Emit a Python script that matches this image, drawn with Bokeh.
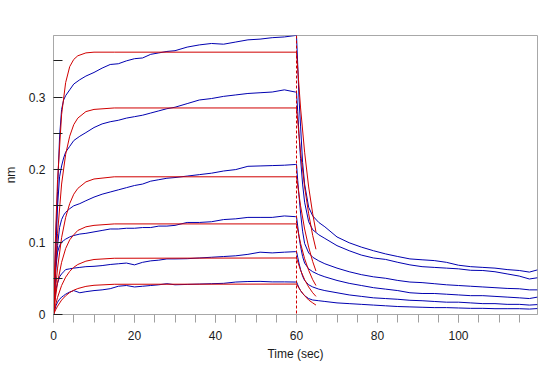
from bokeh.plotting import figure
from bokeh.models import Range1d, FixedTicker, Span
from bokeh.embed import file_html
from bokeh.resources import INLINE

# ---- data ----
assoc_t = [0, 0.3, 0.6, 1, 1.5, 2, 2.5, 3, 4, 5, 6.5, 8, 10, 12, 14, 16, 18, 20, 22, 24, 26, 28,
           30, 33, 36, 39, 42, 45, 48, 51, 54, 57, 59.7]
diss_t = [60, 60.3, 60.6, 61, 61.5, 62, 63, 64, 65.5, 67, 70, 73, 76, 79, 82, 85, 88, 91, 94, 97,
          100, 103, 106, 109, 112, 115, 117.5, 119.5]

blue1_assoc = [0, 0.05, 0.11, 0.17, 0.245, 0.283, 0.296, 0.302, 0.310, 0.318, 0.324, 0.329, 0.334, 0.340,
               0.345, 0.346, 0.350, 0.353, 0.354, 0.359, 0.361, 0.363, 0.364, 0.369, 0.372, 0.374, 0.373,
               0.376, 0.379, 0.380, 0.382, 0.383, 0.385]
blue2_assoc = [0, 0.04, 0.09, 0.15, 0.19, 0.205, 0.216, 0.224, 0.232, 0.240, 0.246, 0.251, 0.258, 0.263,
               0.266, 0.268, 0.271, 0.273, 0.275, 0.278, 0.281, 0.284, 0.286, 0.291, 0.296, 0.298, 0.301,
               0.303, 0.305, 0.306, 0.307, 0.310, 0.307]
blue3_assoc = [0, 0.03, 0.07, 0.095, 0.12, 0.131, 0.137, 0.141, 0.146, 0.150, 0.153, 0.157, 0.162, 0.166,
               0.169, 0.172, 0.175, 0.178, 0.180, 0.184, 0.186, 0.188, 0.189, 0.191, 0.193, 0.195, 0.198,
               0.200, 0.2045, 0.205, 0.2055, 0.206, 0.207]
blue4_assoc = [0, 0.035, 0.065, 0.086, 0.095, 0.100, 0.102, 0.104, 0.107, 0.109, 0.111, 0.112, 0.114, 0.116,
               0.118, 0.118, 0.119, 0.119, 0.120, 0.120, 0.122, 0.122, 0.123, 0.127, 0.127, 0.128, 0.131,
               0.132, 0.134, 0.134, 0.134, 0.136, 0.135]
blue5_assoc = [0, 0.02, 0.035, 0.043, 0.052, 0.056, 0.059, 0.062, 0.063, 0.064, 0.065, 0.066, 0.0665, 0.0675,
               0.069, 0.070, 0.071, 0.0685, 0.072, 0.074, 0.075, 0.0767, 0.0767, 0.077, 0.078, 0.079, 0.080,
               0.081, 0.083, 0.086, 0.085, 0.086, 0.0867]
blue6_assoc = [0, 0.006, 0.012, 0.017, 0.021, 0.024, 0.026, 0.028, 0.031, 0.033, 0.030, 0.0315, 0.033, 0.034,
               0.0356, 0.039, 0.040, 0.038, 0.039, 0.040, 0.041, 0.0425, 0.041, 0.0415, 0.042, 0.0425, 0.043,
               0.0448, 0.0455, 0.0457, 0.045, 0.045, 0.0448]

blue1_diss = [0.385, 0.345, 0.30, 0.26, 0.21, 0.18, 0.148, 0.136, 0.127, 0.121, 0.107, 0.099, 0.093, 0.088,
              0.0836, 0.080, 0.0767, 0.0755, 0.0744, 0.072, 0.068, 0.066, 0.065, 0.064, 0.062, 0.0607, 0.0585, 0.0616]
blue2_diss = [0.307, 0.28, 0.25, 0.215, 0.18, 0.155, 0.128, 0.117, 0.110, 0.105, 0.095, 0.088, 0.082, 0.078,
              0.076, 0.072, 0.0685, 0.066, 0.065, 0.064, 0.063, 0.061, 0.0607, 0.059, 0.056, 0.053, 0.049, 0.0507]
blue3_diss = [0.207, 0.185, 0.165, 0.14, 0.115, 0.098, 0.085, 0.079, 0.074, 0.070, 0.064, 0.059, 0.055, 0.052,
              0.050, 0.047, 0.0448, 0.044, 0.0425, 0.041, 0.040, 0.039, 0.038, 0.037, 0.036, 0.0355, 0.034, 0.034]
blue4_diss = [0.135, 0.122, 0.108, 0.094, 0.080, 0.071, 0.063, 0.059, 0.055, 0.052, 0.047, 0.043, 0.040, 0.037,
              0.035, 0.033, 0.030, 0.029, 0.029, 0.028, 0.027, 0.026, 0.026, 0.025, 0.024, 0.023, 0.022, 0.024]
blue5_diss = [0.087, 0.079, 0.071, 0.062, 0.053, 0.047, 0.041, 0.038, 0.035, 0.033, 0.030, 0.027, 0.025, 0.023,
              0.022, 0.021, 0.0196, 0.019, 0.018, 0.017, 0.017, 0.016, 0.015, 0.015, 0.014, 0.014, 0.013, 0.0137]
blue6_diss = [0.045, 0.041, 0.037, 0.033, 0.029, 0.026, 0.022, 0.020, 0.019, 0.018, 0.016, 0.015, 0.014, 0.013,
              0.012, 0.011, 0.0105, 0.010, 0.0095, 0.0095, 0.009, 0.0085, 0.0085, 0.008, 0.008, 0.008, 0.0075, 0.0082]

fit_assoc_t = [0, 0.5, 1, 2, 3, 4, 5, 6, 8, 10, 15, 60]
fit_diss_t = [60, 61, 62, 63, 64, 64.8]

red1_assoc = [0, 0.109, 0.186, 0.276, 0.320, 0.342, 0.352, 0.357, 0.361, 0.362, 0.362, 0.362]
red2_assoc = [0, 0.063, 0.112, 0.180, 0.221, 0.246, 0.262, 0.271, 0.280, 0.283, 0.285, 0.285]
red3_assoc = [0, 0.035, 0.064, 0.106, 0.134, 0.153, 0.166, 0.174, 0.183, 0.187, 0.190, 0.190]
red4_assoc = [0, 0.024, 0.044, 0.072, 0.091, 0.103, 0.110, 0.116, 0.121, 0.123, 0.125, 0.125]
red5_assoc = [0, 0.0129, 0.0236, 0.040, 0.0515, 0.0595, 0.0651, 0.069, 0.0736, 0.0759, 0.0776, 0.078]
red6_assoc = [0, 0.0062, 0.0115, 0.0199, 0.0259, 0.0303, 0.0335, 0.0358, 0.0388, 0.0403, 0.0417, 0.042]

red1_diss = [0.362, 0.285, 0.224, 0.176, 0.139, 0.114]
red2_diss = [0.285, 0.224, 0.176, 0.139, 0.109, 0.090]
red3_diss = [0.190, 0.150, 0.118, 0.093, 0.073, 0.060]
red4_diss = [0.125, 0.098, 0.077, 0.061, 0.048, 0.040]
red5_diss = [0.078, 0.061, 0.048, 0.038, 0.030, 0.025]
red6_diss = [0.042, 0.033, 0.026, 0.020, 0.016, 0.013]

x_ticks = [0, 20, 40, 60, 80, 100]
y_ticks = [0, 0.1, 0.2, 0.3]
y_labels = ["0", "0.1", "0.2", "0.3"]

blue_assoc = [blue1_assoc, blue2_assoc, blue3_assoc, blue4_assoc, blue5_assoc, blue6_assoc]
blue_diss = [blue1_diss, blue2_diss, blue3_diss, blue4_diss, blue5_diss, blue6_diss]
red_assoc = [red1_assoc, red2_assoc, red3_assoc, red4_assoc, red5_assoc, red6_assoc]
red_diss = [red1_diss, red2_diss, red3_diss, red4_diss, red5_diss, red6_diss]

BLUE = "#0000B0"
RED = "#D00000"
FONT = "Liberation Sans"

p = figure(width=539, height=363, output_backend="svg", toolbar_location=None,
           x_range=Range1d(0, 119.5), y_range=Range1d(0, 0.385),
           min_border_left=53, min_border_right=2, min_border_top=35, min_border_bottom=42)
p.outline_line_color = "#A8A8A8"
p.xgrid.visible = False
p.ygrid.visible = False
p.background_fill_color = "white"

for ba, bd in zip(blue_assoc, blue_diss):
    p.line(assoc_t + diss_t, ba + bd, line_color=BLUE, line_width=1)
for ra, rd in zip(red_assoc, red_diss):
    p.line(fit_assoc_t, ra, line_color=RED, line_width=1)
    p.line(fit_diss_t, rd, line_color=RED, line_width=1)

p.add_layout(Span(location=60, dimension="height", line_color=RED, line_dash="3 2", line_width=1))

xa = p.xaxis[0]
xa.ticker = FixedTicker(ticks=x_ticks, minor_ticks=[v * 5 for v in range(0, 24)])
xa.axis_label = "Time (sec)"
xa.major_tick_in = 0
xa.major_tick_out = 8
xa.minor_tick_in = 0
xa.minor_tick_out = 8
xa.axis_line_color = "#A8A8A8"
xa.major_tick_line_color = "#A0A0A0"
xa.minor_tick_line_color = "#A0A0A0"

ya = p.yaxis[0]
ya.ticker = FixedTicker(ticks=y_ticks, minor_ticks=[0.05, 0.15, 0.25, 0.35])
ya.major_label_overrides = {t: l for t, l in zip(y_ticks, y_labels)}
ya.axis_label = "nm"
ya.major_tick_in = 9
ya.major_tick_out = 0
ya.minor_tick_in = 9
ya.minor_tick_out = 0
ya.axis_line_color = "#A8A8A8"
ya.major_tick_line_color = "#202020"
ya.minor_tick_line_color = "#202020"

for ax in (xa, ya):
    ax.major_label_text_font = FONT
    ax.major_label_text_font_size = "12px"
    ax.major_label_text_color = "#1a1a1a"
    ax.axis_label_text_font = FONT
    ax.axis_label_text_font_size = "12px"
    ax.axis_label_text_font_style = "normal"
    ax.axis_label_text_color = "#1a1a1a"
xa.major_label_standoff = 8
xa.axis_label_standoff = 4
ya.major_label_standoff = 8
ya.axis_label_standoff = 8

open("out.html", "w").write(file_html(p, INLINE))
